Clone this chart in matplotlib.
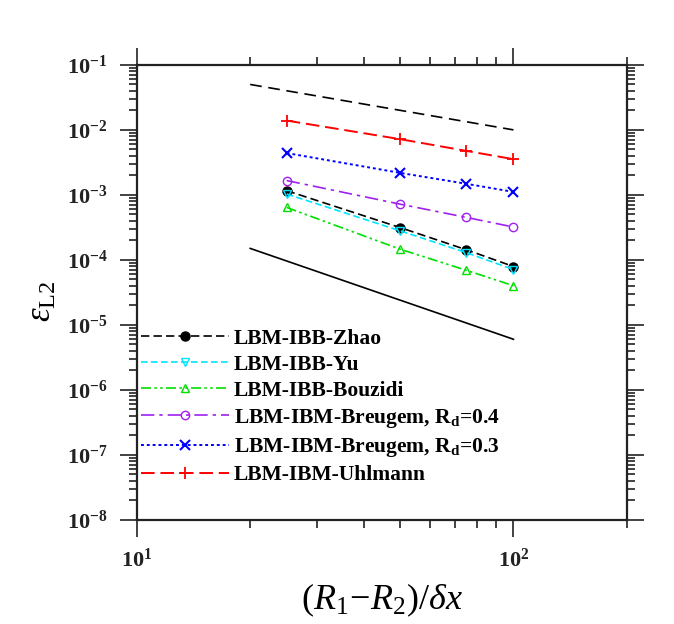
import matplotlib
matplotlib.use("Agg")
import matplotlib.pyplot as plt
from matplotlib.ticker import LogLocator, NullFormatter

plt.rcParams['mathtext.fontset'] = 'custom'
plt.rcParams['mathtext.rm'] = 'Liberation Serif'
plt.rcParams['mathtext.it'] = 'Liberation Serif:italic'
plt.rcParams['mathtext.bf'] = 'Liberation Serif:bold'
plt.rcParams['font.family'] = ['Liberation Serif', 'DejaVu Serif']

# grid resolutions
res = [25, 50, 75, 100]

err_zhao = [1.16e-3, 3.14e-4, 1.43e-4, 7.9e-5]
err_yu = [1.03e-3, 2.8e-4, 1.29e-4, 7.1e-5]
err_bouzidi = [6.4e-4, 1.46e-4, 6.9e-5, 4.0e-5]
err_breugem04 = [1.66e-3, 7.2e-4, 4.5e-4, 3.2e-4]
err_breugem03 = [4.4e-3, 2.18e-3, 1.48e-3, 1.11e-3]
err_uhlmann = [1.39e-2, 7.2e-3, 4.75e-3, 3.54e-3]

# slope reference lines
ref_x = [20, 100]
ref_first = [5.0e-2, 1.0e-2]    # slope -1
ref_second = [1.5e-4, 6.0e-6]   # slope -2

xticks = [10, 100]
xtick_labels = [r'$\mathbf{10^{1}}$', r'$\mathbf{10^{2}}$']
yticks = [1e-8, 1e-7, 1e-6, 1e-5, 1e-4, 1e-3, 1e-2, 1e-1]
ytick_labels = [r'$\mathbf{10^{-8}}$', r'$\mathbf{10^{-7}}$', r'$\mathbf{10^{-6}}$',
                r'$\mathbf{10^{-5}}$', r'$\mathbf{10^{-4}}$', r'$\mathbf{10^{-3}}$',
                r'$\mathbf{10^{-2}}$', r'$\mathbf{10^{-1}}$']

fig = plt.figure(figsize=(6.74, 6.24), dpi=100)
ax = fig.add_axes([0.203, 0.167, 0.727, 0.729])

ax.plot(ref_x, ref_first, color='black', lw=1.2, dashes=(7, 4))
ax.plot(ref_x, ref_second, color='black', lw=1.2, ls='-')

ax.plot(res, err_zhao, color='black', lw=1.2, dashes=(5, 2.5), marker='o',
        ms=6.5, mfc='black', mec='black', label='LBM-IBB-Zhao')
ax.plot(res, err_yu, color='#00e5ff', lw=1.2, dashes=(4, 2), marker='v',
        ms=5.5, mfc='none', mec='#00e5ff', label='LBM-IBB-Yu')
ax.plot(res, err_bouzidi, color='#00e000', lw=1.2, dashes=(6, 2, 1.5, 2, 1.5, 2),
        marker='^', ms=5.5, mfc='none', mec='#00e000', label='LBM-IBB-Bouzidi')
ax.plot(res, err_breugem04, color='#a020f0', lw=1.2, dashes=(8, 3, 2, 3),
        marker='o', ms=6, mfc='none', mec='#a020f0',
        label=r'LBM-IBM-Breugem, R$_{\mathbf{d}}$=0.4')
ax.plot(res, err_breugem03, color='#0000ff', lw=1.4, dashes=(1.5, 1.5),
        marker='x', ms=6.5, mew=1.5, label=r'LBM-IBM-Breugem, R$_{\mathbf{d}}$=0.3')
ax.plot(res, err_uhlmann, color='#ff0000', lw=1.4, dashes=(7, 3),
        marker='+', ms=8, mew=1.3, label='LBM-IBM-Uhlmann')

ax.set_xscale('log')
ax.set_yscale('log')
ax.set_xlim(10, 200)
ax.set_ylim(1e-8, 1e-1)

ax.set_xticks(xticks, labels=xtick_labels)
ax.set_yticks(yticks, labels=ytick_labels)
ax.xaxis.set_minor_locator(LogLocator(base=10, subs=range(2, 10), numticks=20))
ax.yaxis.set_minor_locator(LogLocator(base=10, subs=range(2, 10), numticks=20))
ax.xaxis.set_minor_formatter(NullFormatter())
ax.yaxis.set_minor_formatter(NullFormatter())

ax.tick_params(which='both', direction='out', top=True, right=True, width=1.2,
               labelsize=16, colors='#222222')
ax.tick_params(which='major', length=12, pad=9)
ax.tick_params(which='minor', length=6)
for sp in ax.spines.values():
    sp.set_linewidth(1.6)
    sp.set_color('#222222')

ax.set_xlabel(r'$(R_1\!-\!R_2)/\delta x$', fontsize=26, labelpad=7)
ax.set_ylabel(r'$\varepsilon_{\mathrm{L2}}$', fontsize=25, labelpad=10)
ax.yaxis.set_label_coords(-0.16, 0.48)

ax.legend(loc='upper left', bbox_to_anchor=(0.009, 0.42), frameon=False,
          prop={'family': 'Liberation Serif', 'weight': 'bold', 'size': 15.5},
          handlelength=4.1, handletextpad=0.2, labelspacing=0.28, borderpad=0,
          borderaxespad=0)

fig.savefig('out.png', dpi=100)
